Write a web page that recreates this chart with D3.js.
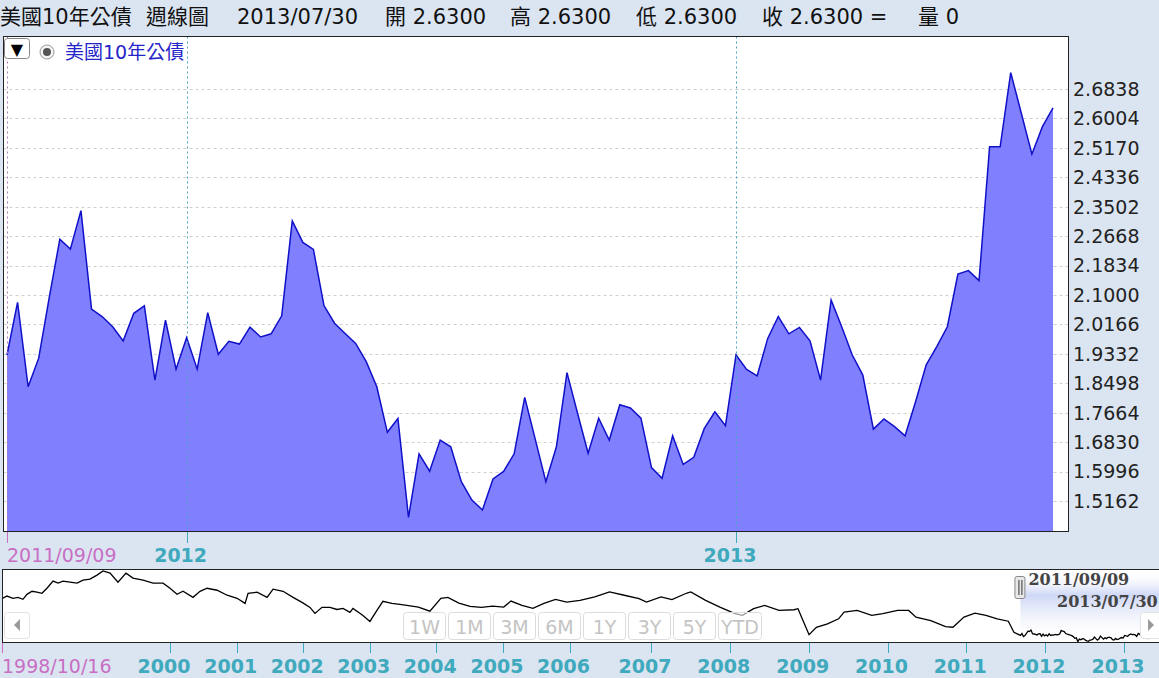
<!DOCTYPE html>
<html>
<head>
<meta charset="utf-8">
<script src="https://cdn.jsdelivr.net/npm/d3@7"></script>
<style>
  body { margin: 0; background: #dbe5f1; }
  svg { display: block; font-family: "DejaVu Sans", "Noto Sans CJK TC", sans-serif; }
</style>
</head>
<body>
<div id="chart"></div>
<script>
// header
const title = '美國10年公債';
const headerItems = ['美國10年公債', '週線圖', '2013/07/30', '開 2.6300', '高 2.6300', '低 2.6300', '收 2.6300 =', '量 0'];

// weekly closes 2011/09/09 .. 2013/07/30
const values = [
  1.930, 2.079, 1.840, 1.921, 2.093, 2.258, 2.230, 2.339, 2.060, 2.039,
  2.010, 1.970, 2.048, 2.069, 1.859, 2.029, 1.890, 1.979, 1.890, 2.050,
  1.932, 1.969, 1.961, 2.009, 1.981, 1.990, 2.041, 2.310, 2.249, 2.229,
  2.070, 2.020, 1.991, 1.963, 1.911, 1.840, 1.711, 1.750, 1.470, 1.650,
  1.601, 1.689, 1.670, 1.571, 1.519, 1.491, 1.579, 1.600, 1.650, 1.810,
  1.691, 1.571, 1.670, 1.880, 1.765, 1.652, 1.751, 1.689, 1.789, 1.780,
  1.751, 1.611, 1.581, 1.701, 1.620, 1.640, 1.722, 1.769, 1.730, 1.930,
  1.889, 1.871, 1.977, 2.039, 1.990, 2.008, 1.970, 1.859, 2.086, 2.010,
  1.930, 1.873, 1.720, 1.749, 1.727, 1.701, 1.798, 1.902, 1.954, 2.010,
  2.159, 2.169, 2.141, 2.520, 2.520, 2.730, 2.615, 2.499, 2.577, 2.630
];
const yTicks = [1.5162, 1.5996, 1.6830, 1.7664, 1.8498, 1.9332, 2.0166, 2.1000,
  2.1834, 2.2668, 2.3502, 2.4336, 2.5170, 2.6004, 2.6838];

// navigator history before the main window (decimal year, value)
const navYear = [
  1998.789, 1998.825, 1998.868, 1998.904, 1998.940, 1998.969, 1999.005, 1999.041, 1999.077, 1999.113,
  1999.157, 1999.193, 1999.229, 1999.279, 1999.330, 1999.373, 1999.423, 1999.474, 1999.517, 1999.568,
  1999.625, 1999.683, 1999.733, 1999.806, 1999.878, 1999.950, 2000.000, 2000.105, 2000.195, 2000.345,
  2000.450, 2000.556, 2000.706, 2000.856, 2001.006, 2001.126, 2001.171, 2001.306, 2001.456, 2001.547,
  2001.697, 2001.847, 2001.982, 2002.102, 2002.177, 2002.282, 2002.402, 2002.508, 2002.598, 2002.703,
  2002.748, 2002.898, 2003.003, 2003.108, 2003.198, 2003.333, 2003.453, 2003.559, 2003.731, 2003.904,
  2004.069, 2004.174, 2004.339, 2004.505, 2004.677, 2004.844, 2005.011, 2005.120, 2005.285, 2005.450,
  2005.616, 2005.790, 2005.958, 2006.129, 2006.310, 2006.491, 2006.672, 2006.853, 2006.945, 2007.127,
  2007.266, 2007.457, 2007.505, 2007.693, 2007.875, 2008.066, 2008.161, 2008.302, 2008.441, 2008.624,
  2008.814, 2008.864, 2008.954, 2009.004, 2009.097, 2009.238, 2009.379, 2009.449, 2009.614, 2009.800,
  2009.941, 2010.128, 2010.269, 2010.362, 2010.550, 2010.737, 2010.831, 2010.971, 2011.110, 2011.250,
  2011.393, 2011.534, 2011.605
];
const navValue = [
  4.72, 4.92, 4.75, 4.82, 4.67, 5.05, 5.28, 5.21, 5.13, 5.51,
  6.05, 5.90, 6.05, 5.97, 5.90, 6.13, 6.20, 6.51, 6.82, 6.66,
  5.97, 6.66, 6.28, 6.13, 5.90, 5.90, 5.51, 5.05, 5.28, 4.82,
  5.28, 5.51, 5.36, 4.98, 4.75, 4.36, 5.13, 5.21, 4.82, 5.44,
  5.28, 4.82, 4.44, 4.06, 3.60, 4.06, 4.06, 3.90, 3.98, 3.68,
  3.98, 3.45, 2.99, 3.83, 4.52, 4.36, 4.29, 4.21, 4.08, 3.77,
  4.75, 4.82, 4.39, 4.13, 4.06, 4.16, 4.08, 4.54, 4.21, 3.98,
  4.36, 4.67, 4.46, 4.59, 4.85, 5.23, 4.98, 4.72, 4.46, 4.85,
  4.65, 5.15, 5.23, 4.59, 4.08, 3.58, 3.45, 3.96, 4.21, 3.83,
  3.88, 3.96, 2.68, 1.99, 2.55, 2.81, 3.19, 3.70, 3.83, 3.45,
  3.58, 3.83, 3.83, 3.32, 3.06, 2.60, 2.55, 3.32, 3.62, 3.45,
  3.19, 3.01, 2.17
];
const navYears = [2000, 2001, 2002, 2003, 2004, 2005, 2006, 2007, 2008, 2009, 2010, 2011, 2012, 2013];
const rangeButtons = ['1W', '1M', '3M', '6M', '1Y', '3Y', '5Y', 'YTD'];
const navStartLabel = '1998/10/16';
const selStart = '2011/09/09';
const selEnd = '2013/07/30';

const W = 1159, H = 678;
const teal = '#3fa9bd', pink = '#c86fc4';
const fmt = d3.timeFormat('%Y/%m/%d');

// dates: every Friday from 2011/09/09, last partial week 2013/07/30
const dates = d3.timeFriday.range(new Date(2011, 8, 9), new Date(2013, 6, 27));
dates.push(new Date(2013, 6, 30));
const data = dates.map((d, i) => ({date: d, value: values[i], i: i}));

const svg = d3.select('#chart').append('svg').attr('width', W).attr('height', H);

// ---- header
const headerX = [0, 146, 237, 385, 510, 636, 762, 918];
svg.append('g').selectAll('text').data(headerItems).join('text')
  .attr('x', (d, k) => headerX[k]).attr('y', 24)
  .attr('font-size', 21).attr('fill', '#111')
  .text(d => d);

// ---- main chart
const frame = {left: 3.5, top: 36.5, right: 1068.5, bottom: 531.5};
const x = d3.scaleLinear().domain([0, data.length - 1]).range([7, 1053]);
const y = d3.scaleLinear().domain([1.4314, 2.8337]).range([531, 36]);

svg.append('rect')
  .attr('x', frame.left).attr('y', frame.top)
  .attr('width', frame.right - frame.left).attr('height', frame.bottom - frame.top)
  .attr('fill', '#fff');

// grid
svg.append('g').selectAll('line').data(yTicks).join('line')
  .attr('x1', frame.left).attr('x2', frame.right)
  .attr('y1', d => Math.round(y(d)) + 0.5).attr('y2', d => Math.round(y(d)) + 0.5)
  .attr('stroke', '#cfcfcf').attr('stroke-dasharray', '3,3');

// year boundaries in index space
const yearStarts = data.filter((d, i) => i > 0 && d.date.getFullYear() !== data[i - 1].date.getFullYear());

const area = d3.area().x(d => x(d.i)).y0(531).y1(d => y(d.value));
const line = d3.line().x(d => x(d.i)).y(d => y(d.value));

svg.append('path').datum(data).attr('d', area).attr('fill', '#8080ff');
svg.append('path').datum(data).attr('d', line)
  .attr('fill', 'none').attr('stroke', '#1010c8').attr('stroke-width', 1.5);

// vertical dotted markers
svg.append('line')
  .attr('x1', x(0) + 0.5).attr('x2', x(0) + 0.5).attr('y1', frame.top).attr('y2', frame.bottom)
  .attr('stroke', '#b07ab0').attr('stroke-dasharray', '2,3');
svg.append('g').selectAll('line').data(yearStarts).join('line')
  .attr('x1', d => Math.round(x(d.i)) + 0.5).attr('x2', d => Math.round(x(d.i)) + 0.5)
  .attr('y1', frame.top).attr('y2', frame.bottom)
  .attr('stroke', '#4aa3c0').attr('stroke-dasharray', '2,3');

svg.append('rect')
  .attr('x', frame.left).attr('y', frame.top)
  .attr('width', frame.right - frame.left).attr('height', frame.bottom - frame.top)
  .attr('fill', 'none').attr('stroke', '#222').attr('stroke-width', 1);

// y labels
svg.append('g').selectAll('text').data(yTicks).join('text')
  .attr('x', 1073).attr('y', d => y(d)).attr('dy', '0.36em')
  .attr('font-size', 19).attr('fill', '#222')
  .text(d => d.toFixed(4));

// x axis
svg.append('line').attr('x1', x(0) + 0.5).attr('x2', x(0) + 0.5).attr('y1', 532).attr('y2', 543)
  .attr('stroke', pink);
svg.append('text').attr('x', x(0)).attr('y', 562).attr('font-size', 19).attr('fill', pink)
  .text(fmt(data[0].date));
svg.append('g').selectAll('line').data(yearStarts).join('line')
  .attr('x1', d => Math.round(x(d.i)) + 0.5).attr('x2', d => Math.round(x(d.i)) + 0.5)
  .attr('y1', 532).attr('y2', 543).attr('stroke', teal);
svg.append('g').selectAll('text').data(yearStarts).join('text')
  .attr('x', d => x(d.i) - 6).attr('y', 562).attr('text-anchor', 'middle')
  .attr('font-size', 19).attr('font-weight', 'bold').attr('fill', teal)
  .text(d => d.date.getFullYear());

// legend
const lg = svg.append('g');
lg.append('rect').attr('x', 4.5).attr('y', 38.5).attr('width', 25).attr('height', 20).attr('rx', 3)
  .attr('fill', '#fff').attr('stroke', '#888');
lg.append('text').attr('x', 17).attr('y', 55).attr('text-anchor', 'middle').attr('font-size', 16).text('▼');
lg.append('circle').attr('cx', 47).attr('cy', 52).attr('r', 7).attr('fill', '#f4f4f4').attr('stroke', '#999');
lg.append('circle').attr('cx', 47).attr('cy', 52).attr('r', 4).attr('fill', '#555');
lg.append('text').attr('x', 65).attr('y', 59).attr('font-size', 19).attr('fill', '#2424c8').text(title);

// ---- navigator
const nav = {left: 2.5, top: 569.5, right: 1162, bottom: 642.5};
const yrDate = yr => {
  const y0 = Math.floor(yr);
  const a = new Date(y0, 0, 1), b = new Date(y0 + 1, 0, 1);
  return new Date(+a + (yr - y0) * (b - a));
};
const nx = d3.scaleTime()
  .domain([new Date(1998, 9, 16), new Date(2000, 0, 1), new Date(2006, 0, 1), new Date(2007, 0, 1), new Date(2013, 0, 1)])
  .range([2, 170, 569.5, 651, 1124]);
const navData = navYear.map((yr, k) => ({date: yrDate(yr), value: navValue[k]}))
  .concat(data.map(d => ({date: d.date, value: d.value})));
const ny = d3.scaleLinear().domain(d3.extent(navData, d => d.value)).range([641.5, 571]);

svg.append('rect').attr('x', nav.left).attr('y', nav.top)
  .attr('width', nav.right - nav.left).attr('height', nav.bottom - nav.top).attr('fill', '#fff');

// selection band
const defs = svg.append('defs');
const grad = defs.append('linearGradient').attr('id', 'selg').attr('x1', 0).attr('x2', 0).attr('y1', 0).attr('y2', 1);
grad.append('stop').attr('offset', '0%').attr('stop-color', '#ffffff').attr('stop-opacity', 0);
grad.append('stop').attr('offset', '35%').attr('stop-color', '#c8d2f4').attr('stop-opacity', 0.9);
grad.append('stop').attr('offset', '100%').attr('stop-color', '#ffffff').attr('stop-opacity', 0);
const selX = nx(data[0].date);
svg.append('rect').attr('x', selX).attr('y', nav.top + 1)
  .attr('width', nav.right - selX).attr('height', nav.bottom - nav.top - 2)
  .attr('fill', 'url(#selg)');

svg.append('path').datum(navData)
  .attr('d', d3.line().x(d => nx(d.date)).y(d => ny(d.value)))
  .attr('fill', 'none').attr('stroke', '#000').attr('stroke-width', 1.3);

// range buttons
const btn = svg.append('g').selectAll('g').data(rangeButtons).join('g')
  .attr('transform', (d, k) => `translate(${403.5 + k * 45},612.5)`);
btn.append('rect').attr('width', d => d === 'YTD' ? 43 : 42).attr('height', 27).attr('rx', 3)
  .attr('fill', '#fff').attr('fill-opacity', 0.6).attr('stroke', '#dcdcdc');
btn.append('text').attr('x', d => d === 'YTD' ? 21.5 : 21).attr('y', 21).attr('text-anchor', 'middle')
  .attr('font-size', 19).attr('fill', '#c4c4c4').text(d => d);

// scroll arrows
svg.append('rect').attr('x', 4.5).attr('y', 612.5).attr('width', 25).attr('height', 26).attr('rx', 3)
  .attr('fill', '#fff').attr('stroke', '#e2e2e2');
svg.append('path').attr('d', 'M20,619 L14,625 L20,631 Z').attr('fill', '#999');
svg.append('rect').attr('x', 1140.5).attr('y', 612.5).attr('width', 25).attr('height', 26).attr('rx', 3)
  .attr('fill', '#fff').attr('stroke', '#e2e2e2');
svg.append('path').attr('d', 'M1148,619 L1154,625 L1148,631 Z').attr('fill', '#999');

// handle
svg.append('rect').attr('x', selX - 5.5).attr('y', 576.5).attr('width', 10).attr('height', 22).attr('rx', 2)
  .attr('fill', '#e8e8e8').attr('stroke', '#888');
svg.append('line').attr('x1', selX - 1.5).attr('x2', selX - 1.5).attr('y1', 580).attr('y2', 595).attr('stroke', '#333');
svg.append('line').attr('x1', selX + 1.5).attr('x2', selX + 1.5).attr('y1', 580).attr('y2', 595).attr('stroke', '#333');

svg.append('text').attr('x', selX + 8).attr('y', 585).attr('font-size', 16).attr('font-weight', 'bold')
  .attr('font-family', '"DejaVu Serif", serif').attr('fill', '#444').text(selStart);
svg.append('text').attr('x', 1159).attr('y', 607).attr('text-anchor', 'start').attr('dx', -102)
  .attr('font-size', 16).attr('font-weight', 'bold')
  .attr('font-family', '"DejaVu Serif", serif').attr('fill', '#444').text(selEnd);

svg.append('rect').attr('x', nav.left).attr('y', nav.top)
  .attr('width', nav.right - nav.left).attr('height', nav.bottom - nav.top)
  .attr('fill', 'none').attr('stroke', '#222');

// navigator axis
svg.append('line').attr('x1', 2.5).attr('x2', 2.5).attr('y1', 643).attr('y2', 653).attr('stroke', pink);
svg.append('text').attr('x', 2).attr('y', 673).attr('font-size', 19).attr('fill', pink).text(navStartLabel);
const yearTicks = navYears.map(yr => new Date(yr, 0, 1));
svg.append('g').selectAll('line').data(yearTicks).join('line')
  .attr('x1', d => Math.round(nx(d)) + 0.5).attr('x2', d => Math.round(nx(d)) + 0.5)
  .attr('y1', 643).attr('y2', 653).attr('stroke', teal);
svg.append('g').selectAll('text').data(yearTicks).join('text')
  .attr('x', d => nx(d) - 6).attr('y', 673).attr('text-anchor', 'middle')
  .attr('font-size', 19).attr('font-weight', 'bold').attr('fill', teal)
  .text(d => d.getFullYear());
</script>
</body>
</html>
